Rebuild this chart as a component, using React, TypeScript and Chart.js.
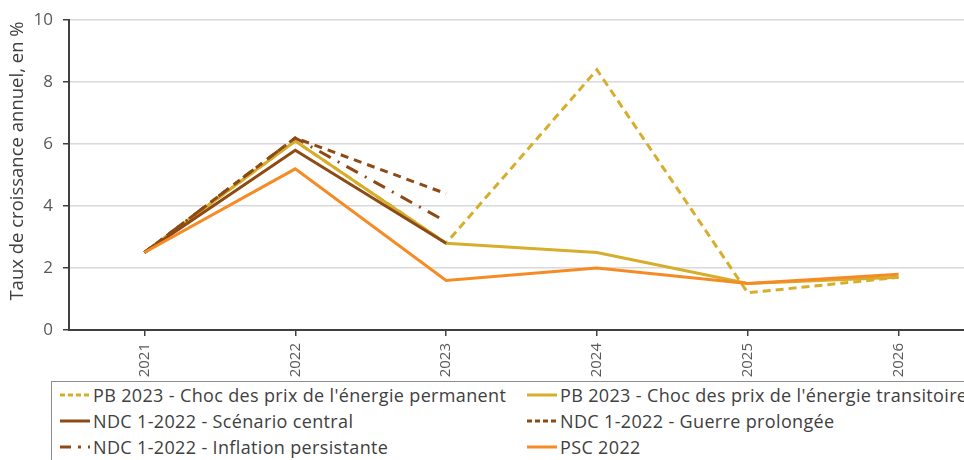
import React, { useEffect, useRef } from "react";
import { Chart, registerables } from "chart.js";
Chart.register(...registerables);

const years = ["2021", "2022", "2023", "2024", "2025", "2026"];
const pbPermanent = [2.5, 6.1, 2.8, 8.4, 1.2, 1.7];
const pbTransitoire = [2.5, 6.1, 2.8, 2.5, 1.5, 1.7];
const ndcCentral = [2.5, 5.8, 2.8, null, null, null];
const ndcGuerre = [2.5, 6.2, 4.4, null, null, null];
const ndcInflation = [2.5, 6.2, 3.5, null, null, null];
const psc2022 = [2.5, 5.2, 1.6, 2.0, 1.5, 1.8];
const yTicks = [0, 2, 4, 6, 8, 10];
const yTitle = "Taux de croissance annuel, en %";

const GOLD = "#D6AE2C";
const BROWN = "#8E4A14";
const ORANGE = "#F68B26";
const FONT = "'Open Sans', sans-serif";

const series = [
  { label: "PB 2023 - Choc des prix de l'énergie permanent", data: pbPermanent, color: GOLD, dash: [8, 5], order: 3 },
  { label: "PB 2023 - Choc des prix de l'énergie transitoire", data: pbTransitoire, color: GOLD, dash: [], order: 4 },
  { label: "NDC 1-2022 - Scénario central", data: ndcCentral, color: BROWN, dash: [], order: 2 },
  { label: "NDC 1-2022 - Guerre prolongée", data: ndcGuerre, color: BROWN, dash: [8, 6], order: 1 },
  { label: "NDC 1-2022 - Inflation persistante", data: ndcInflation, color: BROWN, dash: [13, 8, 2, 8], order: 1 },
  { label: "PSC 2022", data: psc2022, color: ORANGE, dash: [], order: 0 },
];

const yTitlePlugin = {
  id: "yTitlePlugin",
  afterDraw(chart: any) {
    const ctx = chart.ctx;
    ctx.save();
    ctx.translate(18, 161);
    ctx.rotate(-Math.PI / 2);
    ctx.font = `18.5px ${FONT}`;
    ctx.fillStyle = "#404040";
    ctx.textAlign = "center";
    ctx.textBaseline = "middle";
    ctx.fillText(yTitle, 0, 0);
    ctx.restore();
  },
};

function LegendItem({ s }: { s: any }) {
  const legendDash = s.dash.length === 4 ? "11 7 3 7" : s.dash.length ? "5 3" : undefined;
  return (
    <div style={{ display: "flex", alignItems: "center", height: 26 }}>
      <svg width={31} height={10} style={{ marginRight: 2 }}>
        <line x1={0} y1={5} x2={30} y2={5} stroke={s.color} strokeWidth={3} strokeDasharray={legendDash} />
      </svg>
      <span>{s.label}</span>
    </div>
  );
}

export default function App() {
  const ref = useRef<HTMLCanvasElement>(null);
  useEffect(() => {
    const chart = new Chart(ref.current!, {
      type: "line",
      data: {
        labels: years,
        datasets: series.map((s) => ({
          label: s.label,
          data: s.data,
          borderColor: s.color,
          backgroundColor: s.color,
          borderWidth: 3,
          borderDash: s.dash,
          pointRadius: 0,
          tension: 0,
          fill: false,
          order: s.order,
          borderCapStyle: "butt" as const,
        })),
      },
      plugins: [yTitlePlugin],
      options: {
        animation: false,
        responsive: false,
        layout: { padding: { top: 19, left: 0, right: 0, bottom: 0 } },
        plugins: { legend: { display: false }, tooltip: { enabled: false } },
        scales: {
          x: {
            type: "category",
            offset: true,
            grid: { offset: false, drawOnChartArea: false, tickLength: 6, color: "#404040", lineWidth: 1.5 },
            border: { color: "#404040", width: 2 },
            ticks: {
              minRotation: 90,
              maxRotation: 90,
              padding: 7,
              color: "#595959",
              font: { family: FONT, size: 15 },
            },
            afterFit: (scale: any) => {
              scale.height = 48;
            },
          },
          y: {
            min: 0,
            max: 10,
            afterBuildTicks: (scale: any) => {
              scale.ticks = yTicks.map((v) => ({ value: v }));
            },
            grid: { color: "#D9D9D9", lineWidth: 1.5, tickLength: 6, tickColor: "#404040" },
            border: { color: "#404040", width: 2 },
            ticks: { color: "#595959", padding: 10, font: { family: FONT, size: 17 } },
            title: { display: false },
            afterFit: (scale: any) => {
              scale.width = 69;
            },
          },
        },
      },
    });
    return () => chart.destroy();
  }, []);

  return (
    <div style={{ position: "fixed", left: 0, top: 0, width: 964, height: 460, overflow: "hidden", background: "#fff" }}>
      <canvas ref={ref} width={974} height={378} style={{ position: "absolute", left: 0, top: 0 }} />
      <div
        style={{
          position: "absolute",
          left: 51,
          top: 381,
          width: 940,
          height: 100,
          border: "1px solid #8c8c8c",
          boxSizing: "border-box",
          fontFamily: FONT,
          fontSize: 18,
          letterSpacing: 0.35,
          color: "#404040",
          paddingTop: 0,
        }}
      >
        <div style={{ display: "grid", gridTemplateColumns: "467px 1fr", paddingLeft: 8 }}>
          {series.map((s, i) => (
            <LegendItem key={i} s={s} />
          ))}
        </div>
      </div>
    </div>
  );
}
